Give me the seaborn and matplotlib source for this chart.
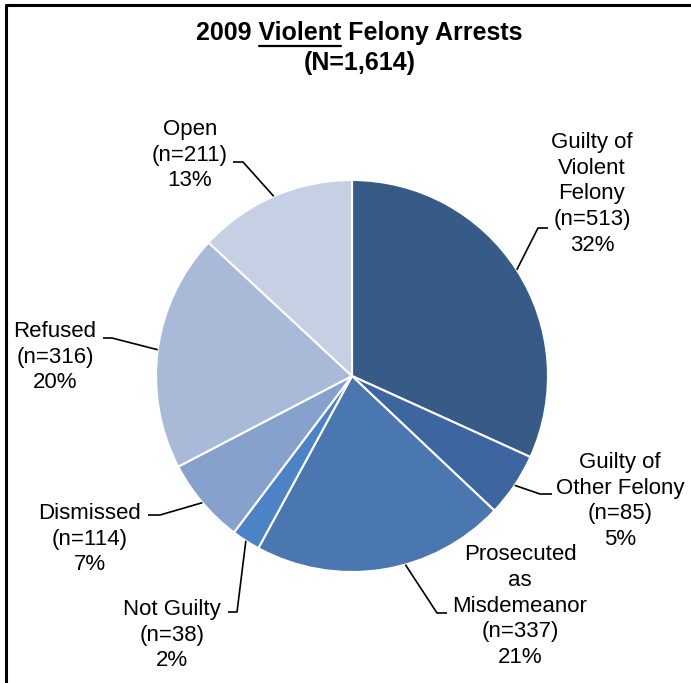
import matplotlib
matplotlib.use("Agg")
import matplotlib.pyplot as plt
import seaborn as sns
import numpy as np
from matplotlib.lines import Line2D

categories = ["Guilty of\nViolent\nFelony", "Guilty of\nOther Felony",
              "Prosecuted\nas\nMisdemeanor", "Not Guilty", "Dismissed",
              "Refused", "Open"]
counts = [513, 85, 337, 38, 114, 316, 211]
percents = [32, 5, 21, 2, 7, 20, 13]
colors = ["#375B87", "#3D66A0", "#4A77B0", "#4C83C6",
          "#87A1CD", "#A9BAD9", "#C5D0E4"]

sns.set_theme(style="white")
plt.rcParams["font.family"] = ["Liberation Sans", "DejaVu Sans"]
plt.rcParams["text.color"] = "black"

W, H = 691, 683
CX, CY, R = 352, 376, 196


def px(x, y):
    # pixel position -> data units (pie radius = 1)
    return (x - CX) / R, (CY - y) / R


fig = plt.figure(figsize=(W / 100, H / 100), dpi=100)
ax = fig.add_axes([0, 0, 1, 1])
wedges, _ = ax.pie(counts, colors=colors, startangle=90, counterclock=False,
                   radius=1, wedgeprops=dict(edgecolor="white", linewidth=1.5))
ax.set_xlim(px(0, 0)[0], px(W, 0)[0])
ax.set_ylim(px(0, H)[1], px(0, 0)[1])
ax.axis("off")

# label centre (pixels), elbow + end of leader (pixels), where on the wedge the leader starts
label_pos = [(592, 194), (620, 501), (520, 606), (172, 635), (90, 539),
             (55, 357), (190, 155)]
elbows = [((538, 228), (548, 228)), ((540, 494), (552, 494)),
          ((437, 613), (447, 613)), ((237, 612), (228, 612)),
          ((160, 515), (148, 515)), ((112, 338), (103, 338)),
          ((243, 162), (233, 162))]
anchor_frac = [0.5, 0.5, 0.59, 0.5, 0.5, 0.5, 0.5]

for w, n, p, name, (tx, ty), (e1, e2), f in zip(wedges, counts, percents, categories,
                                                  label_pos, elbows, anchor_frac):
    ang = np.deg2rad(w.theta1 + (w.theta2 - w.theta1) * f)
    sx, sy = np.cos(ang), np.sin(ang)
    xs = [sx, px(*e1)[0], px(*e2)[0]]
    ys = [sy, px(*e1)[1], px(*e2)[1]]
    ax.plot(xs, ys, color="black", lw=1.2, solid_capstyle="butt")
    ax.text(*px(tx, ty), f"{name}\n(n={n})\n{p}%", ha="center", va="center",
            multialignment="center", fontsize=16, linespacing=1.3)

# title with underlined word
title = fig.text(0.52, 1 - 33 / H, "2009 Violent Felony Arrests", ha="center",
                 va="center", fontsize=18, fontweight="bold")
fig.text(0.52, 1 - 63 / H, "(N=1,614)", ha="center", va="center",
         fontsize=18, fontweight="bold")
fig.canvas.draw()
rend = fig.canvas.get_renderer()
bb = title.get_window_extent(rend)
tmp = fig.text(0, 0, "2009 Violent", fontsize=18, fontweight="bold")
w1 = tmp.get_window_extent(rend).width
tmp.set_text("Violent")
w2 = tmp.get_window_extent(rend).width
tmp.remove()
x_end = bb.x0 + w1
x_start = x_end - w2
fig.add_artist(Line2D([x_start / W, x_end / W], [1 - 46 / H, 1 - 46 / H],
                      color="black", lw=1.6, transform=fig.transFigure))

# frame (clipped at right and bottom)
fig.add_artist(Line2D([6 / W, 6 / W, 1], [0, 1 - 5 / H, 1 - 5 / H],
                      color="black", lw=2.2, transform=fig.transFigure))

fig.savefig("out.png", dpi=100)
